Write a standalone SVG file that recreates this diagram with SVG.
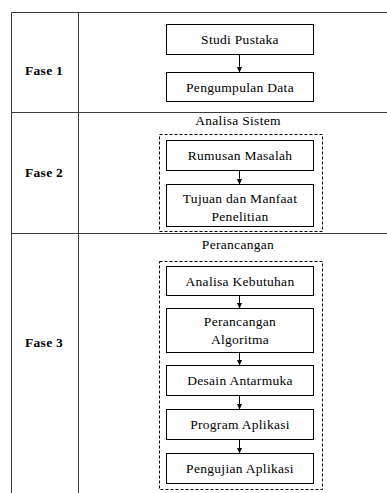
<svg xmlns="http://www.w3.org/2000/svg" width="387" height="493" viewBox="0 0 387 493">
<style>
.grid{stroke:#3a3a3a;stroke-width:1;fill:none}
.box{fill:#fff;stroke:#000;stroke-width:1}
.dash{fill:none;stroke:#000;stroke-width:1;stroke-dasharray:3,2}
text{font-family:'Liberation Serif','Times New Roman',Times,serif;letter-spacing:0.3px}
.t{font-size:13.5px;fill:#000;text-anchor:middle;dominant-baseline:central}
.f{font-size:13.5px;font-weight:bold;fill:#000;dominant-baseline:central}
.c{stroke:#000;stroke-width:1;fill:none;marker-end:url(#ah)}
</style>
<defs>
<marker id="ah" markerWidth="6" markerHeight="6" refX="5" refY="3" orient="auto" markerUnits="userSpaceOnUse">
<path d="M0,0.5 L5.5,3 L0,5.5 z" fill="#000"/>
</marker>
</defs>
<rect width="387" height="493" fill="#fff"/>
<g id="table">
<path class="grid" d="M11.5,493 V12.5 H387 M78.5,12.5 V493 M11.5,112.5 H387 M11.5,233.5 H387"/>
<text class="f" x="25" y="70">Fase 1</text>
<text class="f" x="25" y="172">Fase 2</text>
<text class="f" x="25" y="342">Fase 3</text>
<text class="t" x="238" y="120">Analisa Sistem</text>
<text class="t" x="238" y="244">Perancangan</text>
</g>
<g id="group2"><rect class="dash" x="159.5" y="134.5" width="163" height="97"/></g>
<g id="group3"><rect class="dash" x="159.5" y="261.5" width="163" height="228"/></g>
<g id="n1"><rect class="box" x="166.5" y="24.5" width="147" height="30"/><text class="t" x="240" y="39.5">Studi Pustaka</text></g>
<g id="n2"><rect class="box" x="166.5" y="72.5" width="147" height="29"/><text class="t" x="240" y="87">Pengumpulan Data</text></g>
<g id="n3"><rect class="box" x="166.5" y="140.5" width="147" height="30"/><text class="t" x="240" y="155.5">Rumusan Masalah</text></g>
<g id="n4"><rect class="box" x="166.5" y="184.5" width="147" height="42"/><text class="t" x="240" y="198">Tujuan dan Manfaat</text><text class="t" x="240" y="216">Penelitian</text></g>
<g id="n5"><rect class="box" x="166.5" y="266.5" width="147" height="29"/><text class="t" x="240" y="281">Analisa Kebutuhan</text></g>
<g id="n6"><rect class="box" x="166.5" y="308.5" width="147" height="44"/><text class="t" x="240" y="321">Perancangan</text><text class="t" x="240" y="339">Algoritma</text></g>
<g id="n7"><rect class="box" x="166.5" y="365.5" width="147" height="30"/><text class="t" x="240" y="380.5">Desain Antarmuka</text></g>
<g id="n8"><rect class="box" x="166.5" y="409.5" width="147" height="30"/><text class="t" x="240" y="424.5">Program Aplikasi</text></g>
<g id="n9"><rect class="box" x="166.5" y="453.5" width="147" height="30"/><text class="t" x="240" y="468.5">Pengujian Aplikasi</text></g>
<g id="connectors">
<path class="c" d="M239.5,55 V72"/>
<path class="c" d="M239.5,171 V184"/>
<path class="c" d="M239.5,296 V308"/>
<path class="c" d="M239.5,353 V365"/>
<path class="c" d="M239.5,396 V409"/>
<path class="c" d="M239.5,440 V453"/>
</g>
</svg>
